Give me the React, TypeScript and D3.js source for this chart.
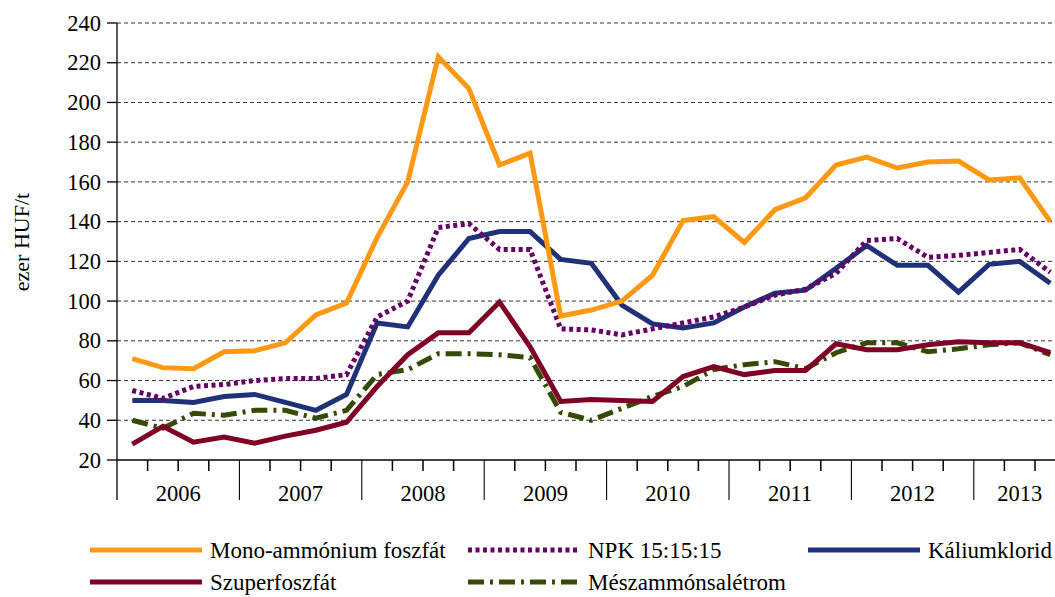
import React, { useEffect, useRef } from "react";
import * as d3 from "d3";

// Quarterly prices, 2006 Q1 - 2013 Q3 (ezer HUF/t)
const years = ["2006", "2007", "2008", "2009", "2010", "2011", "2012", "2013"];
const quartersPerYear = [4, 4, 4, 4, 4, 4, 4, 3];
const yTicks = [20, 40, 60, 80, 100, 120, 140, 160, 180, 200, 220, 240];

const monoAmmonium = [71, 66.5, 66, 74.5, 75, 79, 93, 99, 132, 160, 223, 207, 168.5, 174.5, 92.5, 95.5, 100, 113, 140.5, 142.5, 129.5, 146, 152, 168.5, 172.5, 167, 170, 170.5, 161, 162, 140];
const npk = [55, 51, 57, 58, 60, 61, 61, 63, 92, 100, 137, 139, 126, 126, 86, 85.5, 83, 86, 89, 92, 97, 103, 106, 114, 130.5, 131.5, 122, 123, 124.5, 126, 114.5];
const kalium = [50, 50, 49, 52, 53, 49, 45, 53, 89, 87, 113, 131.5, 135, 135, 121, 119, 98, 88.5, 86.5, 89, 97, 104, 105.5, 116.5, 128, 118, 118, 104.5, 118.5, 120, 109];
const szuper = [28, 37, 29, 31.5, 28.5, 32, 35, 39, 57, 73, 84, 84, 99.5, 77, 49.5, 50.5, 50, 49.5, 62, 67, 63, 65, 65, 78.5, 75.5, 75.5, 78, 79.5, 79, 79, 74];
const meszammon = [40, 36, 43.5, 42.5, 45, 45, 41, 45, 63, 65.5, 73.5, 73.5, 73, 71.5, 44, 40, 46, 52, 57, 65.5, 68, 69.5, 66, 74, 79, 79, 74.5, 76, 78, 79, 73];

const seriesNames = ["Mono-ammónium foszfát", "NPK 15:15:15", "Káliumklorid", "Szuperfoszfát", "Mészammónsalétrom"];

const App = () => {
  const ref = useRef<SVGSVGElement | null>(null);

  useEffect(() => {
    const svg = d3.select(ref.current);
    svg.selectAll("*").remove();

    const left = 117;
    const top = 23;
    const bottom = 460;
    const step = 30.6;

    const categories: string[] = [];
    years.forEach((y, yi) => {
      for (let q = 1; q <= quartersPerYear[yi]; q++) categories.push(`${y} Q${q}`);
    });

    const x = d3
      .scaleBand()
      .domain(categories)
      .range([left, left + categories.length * step])
      .paddingInner(0)
      .paddingOuter(0);
    const y = d3.scaleLinear().domain([20, 240]).range([bottom, top]);
    const xc = (i: number) => (x(categories[i]) as number) + x.bandwidth() / 2;

    const font = "'Liberation Serif', 'Times New Roman', serif";

    // gridlines
    svg
      .append("g")
      .selectAll("line")
      .data(yTicks.filter((t) => t > 20))
      .join("line")
      .attr("x1", left)
      .attr("x2", 1055)
      .attr("y1", (d) => y(d))
      .attr("y2", (d) => y(d))
      .attr("stroke", "#333")
      .attr("stroke-width", 1)
      .attr("stroke-dasharray", "4,3");

    // y axis
    const yAxis = svg.append("g").attr("font-family", font).attr("font-size", 22.5);
    yAxis
      .append("line")
      .attr("x1", left)
      .attr("x2", left)
      .attr("y1", top)
      .attr("y2", 500)
      .attr("stroke", "#000")
      .attr("stroke-width", 1.3);
    yAxis
      .selectAll("line.tick")
      .data(yTicks)
      .join("line")
      .attr("class", "tick")
      .attr("x1", 107)
      .attr("x2", left)
      .attr("y1", (d) => y(d))
      .attr("y2", (d) => y(d))
      .attr("stroke", "#000")
      .attr("stroke-width", 1.3);
    yAxis
      .selectAll("text")
      .data(yTicks)
      .join("text")
      .attr("x", 101)
      .attr("y", (d) => y(d))
      .attr("dy", "0.34em")
      .attr("text-anchor", "end")
      .attr("fill", "#000")
      .text((d) => d);

    svg
      .append("text")
      .attr("transform", "translate(29,242) rotate(-90)")
      .attr("text-anchor", "middle")
      .attr("font-family", font)
      .attr("font-size", 22)
      .text("ezer HUF/t");

    // x axis
    const xAxis = svg.append("g").attr("font-family", font).attr("font-size", 22.5);
    xAxis
      .append("line")
      .attr("x1", left)
      .attr("x2", 1055)
      .attr("y1", bottom)
      .attr("y2", bottom)
      .attr("stroke", "#000")
      .attr("stroke-width", 1.5);
    xAxis
      .selectAll("line.tick")
      .data(categories.slice(1))
      .join("line")
      .attr("class", "tick")
      .attr("x1", (d) => x(d) as number)
      .attr("x2", (d) => x(d) as number)
      .attr("y1", bottom)
      .attr("y2", (d) => (d.endsWith("Q1") ? 500 : 471))
      .attr("stroke", "#000")
      .attr("stroke-width", (d) => (d.endsWith("Q1") ? 1.1 : 1.5));
    xAxis
      .selectAll("text")
      .data(years)
      .join("text")
      .attr("x", (d, i) => {
        const first = x(`${d} Q1`) as number;
        return first + (quartersPerYear[i] * step) / 2;
      })
      .attr("y", 501)
      .attr("text-anchor", "middle")
      .attr("fill", "#000")
      .text((d) => d);

    // series
    const series = [
      { name: seriesNames[0], values: monoAmmonium, color: "#FF9914", dash: null },
      { name: seriesNames[1], values: npk, color: "#660066", dash: "4,3.5" },
      { name: seriesNames[2], values: kalium, color: "#1F3278", dash: null },
      { name: seriesNames[3], values: szuper, color: "#800025", dash: null },
      { name: seriesNames[4], values: meszammon, color: "#354A05", dash: "16,6,3,6" },
    ];

    const line = d3
      .line<number>()
      .x((_, i) => xc(i))
      .y((d) => y(d));

    const drawOrder = [4, 3, 2, 1, 0];
    drawOrder.forEach((k) => {
      const s = series[k];
      svg
        .append("path")
        .datum(s.values)
        .attr("d", line)
        .attr("fill", "none")
        .attr("stroke", s.color)
        .attr("stroke-width", 5)
        .attr("stroke-linejoin", "miter")
        .attr("stroke-dasharray", s.dash);
    });

    // legend
    const legendPos = [
      { x: 90, y: 550 },
      { x: 468, y: 550 },
      { x: 808, y: 550 },
      { x: 90, y: 582 },
      { x: 468, y: 582 },
    ];
    const legend = svg.append("g").attr("font-family", font).attr("font-size", 23);
    series.forEach((s, i) => {
      const p = legendPos[i];
      legend
        .append("line")
        .attr("x1", p.x)
        .attr("x2", p.x + 112)
        .attr("y1", p.y)
        .attr("y2", p.y)
        .attr("stroke", s.color)
        .attr("stroke-width", 5)
        .attr("stroke-dasharray", s.dash);
      legend
        .append("text")
        .attr("x", p.x + 120)
        .attr("y", p.y)
        .attr("dy", "0.34em")
        .attr("fill", "#000")
        .text(s.name);
    });
  }, []);

  return (
    <svg
      ref={ref}
      width={1055}
      height={597}
      style={{ position: "absolute", left: 0, top: 0, background: "#fff" }}
    />
  );
};

export default App;
